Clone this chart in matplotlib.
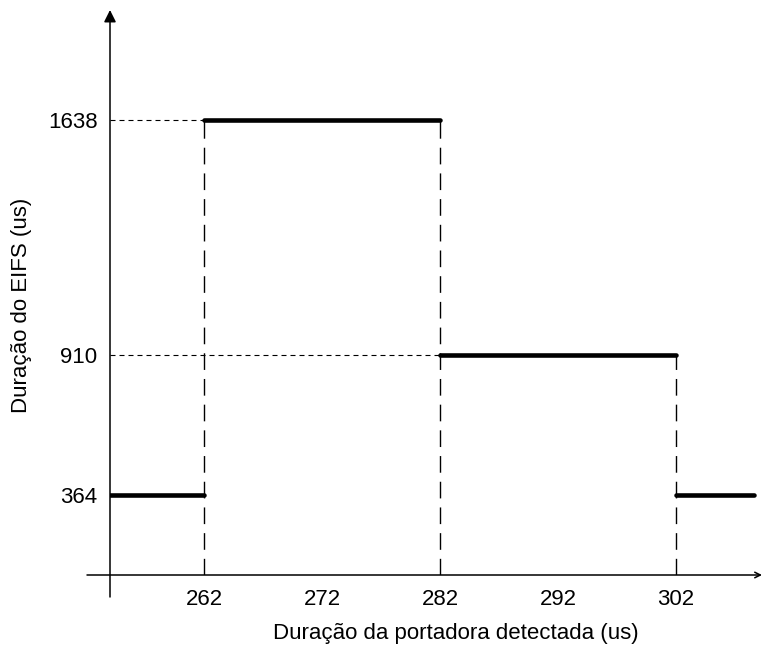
import numpy as np
import matplotlib
matplotlib.use("Agg")
import matplotlib.pyplot as plt

plt.rcParams['font.family'] = ['Liberation Sans', 'DejaVu Sans']

# carrier duration breakpoints (us) and EIFS levels (us)
x_ticks = [262, 272, 282, 292, 302]
y_ticks = [364, 910, 1638]
seg_start = [254.0, 262, 282, 302]
seg_end = [262, 282, 302, 308.6]
seg_level = [364, 1638, 910, 364]
xlabel = "Duração da portadora detectada (us)"
ylabel = "Duração do EIFS (us)"

# the y axis in the drawing is not linear, so map it piecewise
_yv = np.array([-455, 0, 364, 910, 1638, 3000])
_yp = np.array([-100, 0, 80, 220, 455, 894])

def fwd(v):
    return np.interp(v, _yv, _yp)

def inv(p):
    return np.interp(p, _yp, _yv)

fig = plt.figure(figsize=(7.62, 6.52), dpi=100)
ax = fig.add_axes([110 / 762, 77 / 652, 652 / 762, 563 / 652])
ax.set_yscale('function', functions=(fwd, inv))
ax.set_xlim(262 - 94 / 11.8, 262 + 558 / 11.8)
ax.set_ylim(0, inv(563))

for s in ax.spines.values():
    s.set_visible(False)

# steps
for x0, x1, lv in zip(seg_start, seg_end, seg_level):
    ax.plot([x0, x1], [lv, lv], color='black', lw=3.3, solid_capstyle='round', zorder=3)

# vertical dashed drops at breakpoints
for i in range(1, len(seg_start)):
    xb = seg_start[i]
    top = max(seg_level[i - 1], seg_level[i])
    ax.plot([xb, xb], [0, top], color='black', lw=1.0, dashes=(12, 6.5), zorder=2)

# horizontal guides from y axis to the level
ax.plot([ax.get_xlim()[0], 262], [1638, 1638], color='black', lw=0.8, dashes=(4.5, 3.6))
ax.plot([ax.get_xlim()[0], 282], [910, 910], color='black', lw=0.8, dashes=(4.5, 3.6))

# axes with arrows
x_left = ax.get_xlim()[0] - 23 / 11.8
ax.annotate('', xy=(1.0, 0), xytext=(x_left, 0), xycoords=('axes fraction', 'data'),
            textcoords='data', annotation_clip=False,
            arrowprops=dict(arrowstyle='->', lw=1.1, color='black', mutation_scale=10,
                            shrinkA=0, shrinkB=0))
ax.annotate('', xy=(ax.get_xlim()[0], inv(565)), xytext=(ax.get_xlim()[0], inv(-22)),
            annotation_clip=False,
            arrowprops=dict(arrowstyle='-|>', lw=1.1, color='black', mutation_scale=18,
                            shrinkA=0, shrinkB=0))

ax.set_xticks(x_ticks)
ax.set_xticklabels([str(t) for t in x_ticks])
ax.set_yticks(y_ticks)
ax.set_yticklabels([str(t) for t in y_ticks])
ax.tick_params(length=0, labelsize=16)
ax.tick_params(axis='x', pad=10)
ax.tick_params(axis='y', pad=9)
ax.minorticks_off()

fig.text(456 / 762, 1 - 634 / 652, xlabel, ha='center', va='center', fontsize=16)
fig.text(22 / 762, 1 - 305 / 652, ylabel, ha='center', va='center', fontsize=16, rotation=90)

fig.savefig('out.png', dpi=100)
